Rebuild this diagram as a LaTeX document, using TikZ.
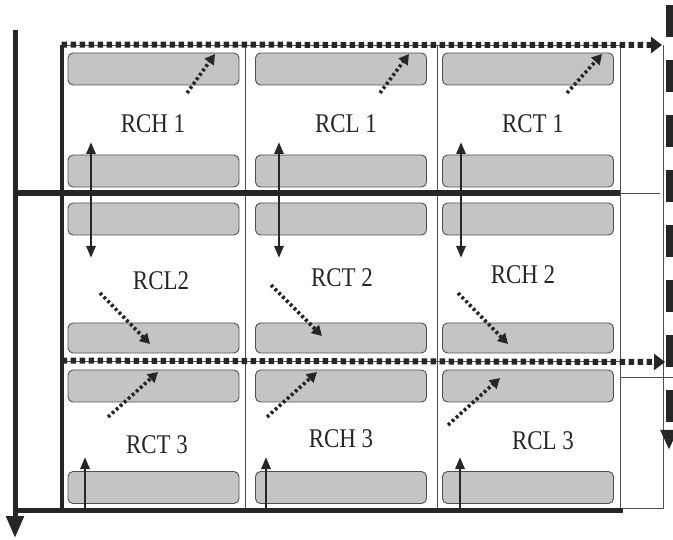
\documentclass[tikz,border=0pt]{standalone}
\usepackage{fontspec}
\setmainfont{Liberation Serif}
\newfontfamily\labelfont[FakeStretch=0.85]{Liberation Serif}
\usepackage{xcolor}
\definecolor{cInk}{HTML}{262626}
\definecolor{cBar}{HTML}{C4C4C4}
\definecolor{cEdge}{HTML}{505050}
\usepackage{tikz}
\usetikzlibrary{positioning,arrows.meta}
\tikzset{
  cell-box/.style={draw=cEdge,line width=0.8pt,inner sep=0pt},
  bar-box/.style={draw=cEdge,line width=0.9pt,fill=cBar,rounded corners=5pt,
    minimum width=171pt,minimum height=32pt,inner sep=0pt},
  cell-label/.style={text=cInk,font=\labelfont\fontsize{27}{30}\selectfont,inner sep=0pt},
  axis-thick/.style={draw=cInk,line width=5pt},
  axis-arrow/.style={axis-thick,-{Triangle[length=22pt,width=17pt]}},
  arrow-link/.style={draw=cInk,line width=2.8pt,{Triangle[length=12pt,width=9pt]}-{Triangle[length=12pt,width=9pt]}},
  arrow-up/.style={draw=cInk,line width=2.8pt,-{Triangle[length=12pt,width=9pt]}},
  arrow-dot/.style={draw=cInk,line width=3.6pt,dash pattern=on 2.8pt off 2.6pt,
    -{Triangle[length=10pt,width=11pt]}},
  flow-dot/.style={draw=cInk,line width=6pt,dash pattern=on 5.5pt off 3.5pt,
    -{Triangle[length=11pt,width=16pt]}},
  flow-dash/.style={draw=cInk,line width=7pt,dash pattern=on 32pt off 23pt,
    -{Triangle[length=20pt,width=16pt]}},
  frame-thin/.style={draw=cEdge,line width=0.8pt},
}
\begin{document}
\begin{tikzpicture}[x=1pt,y=-1pt]
  \useasboundingbox[fill=white] (0,0) rectangle (673,540);
  % cells
  \node[cell-box,minimum width=183pt,minimum height=148pt] (c11) at (153.5,119) {};
  \node[cell-box,minimum width=192pt,minimum height=148pt] (c12) at (341,119) {};
  \node[cell-box,minimum width=183pt,minimum height=148pt] (c13) at (528.5,119) {};
  \node[cell-box,minimum width=183pt,minimum height=168pt] (c21) at (153.5,277) {};
  \node[cell-box,minimum width=192pt,minimum height=168pt] (c22) at (341,277) {};
  \node[cell-box,minimum width=183pt,minimum height=168pt] (c23) at (528.5,277) {};
  \node[cell-box,minimum width=183pt,minimum height=149pt] (c31) at (153.5,435.5) {};
  \node[cell-box,minimum width=192pt,minimum height=149pt] (c32) at (341,435.5) {};
  \node[cell-box,minimum width=183pt,minimum height=149pt] (c33) at (528.5,435.5) {};
  % bars
  \node[bar-box] (b11t) at (153.5,69) {};
  \node[bar-box] (b12t) at (341,69) {};
  \node[bar-box] (b13t) at (528,69) {};
  \node[bar-box] (b11b) at (153.5,171) {};
  \node[bar-box] (b12b) at (341,171) {};
  \node[bar-box] (b13b) at (528,171) {};
  \node[bar-box] (b21t) at (153.5,219) {};
  \node[bar-box] (b22t) at (341,219) {};
  \node[bar-box] (b23t) at (528,219) {};
  \node[bar-box,minimum height=30pt] (b21b) at (153.5,338) {};
  \node[bar-box,minimum height=30pt] (b22b) at (341,338) {};
  \node[bar-box,minimum height=30pt] (b23b) at (528,338) {};
  \node[bar-box] (b31t) at (153.5,386) {};
  \node[bar-box] (b32t) at (341,386) {};
  \node[bar-box] (b33t) at (528,386) {};
  \node[bar-box] (b31b) at (153.5,487.5) {};
  \node[bar-box] (b32b) at (341,487.5) {};
  \node[bar-box] (b33b) at (528,487.5) {};
  % labels
  \node[cell-label] (rch1) at (153,124) {RCH 1};
  \node[cell-label] (rcl1) at (346,124) {RCL 1};
  \node[cell-label] (rct1) at (533,124) {RCT 1};
  \node[cell-label] (rcl2) at (161,281) {RCL2};
  \node[cell-label] (rct2) at (342,278) {RCT 2};
  \node[cell-label] (rch2) at (523,275) {RCH 2};
  \node[cell-label] (rct3) at (157,445) {RCT 3};
  \node[cell-label] (rch3) at (341,439) {RCH 3};
  \node[cell-label] (rcl3) at (543,441) {RCL 3};
  % frame on the right
  \coordinate (fr1) at (620,193);
  \coordinate (fr2) at (660,193);
  \coordinate (fr3) at (620,377);
  \coordinate (fr4) at (673,377);
  \coordinate (fr5) at (663,45);
  \coordinate (fr6) at (663,508);
  \coordinate (fr7) at (620,508);
  \draw[frame-thin] (fr1) -- (fr2);
  \draw[frame-thin] (fr3) -- (fr4);
  \draw[frame-thin] (fr5) -- (fr6) -- (fr7);
  % thick lines
  \coordinate (ax0) at (15,30);
  \coordinate (ax1) at (15,538);
  \coordinate (ax2) at (15,193);
  \coordinate (ax3) at (620,193);
  \coordinate (ax4) at (15,510);
  \coordinate (ax5) at (623,510);
  \draw[axis-arrow] (ax0) -- (ax1);
  \draw[axis-thick,line width=6pt] (ax2) -- (ax3);
  \draw[axis-thick] (ax4) -- (ax5);
  \draw[axis-thick,line width=4pt] (c11.north west) -- (c31.south west);
  % dotted flows
  \coordinate (fl1) at (662,45);
  \coordinate (fl2) at (665,362);
  \draw[flow-dot] (c11.north west) -- (fl1);
  \draw[flow-dot] (c31.north west) -- (fl2);
  \coordinate (dsh0) at (669,5);
  \coordinate (dsh1) at (669,450);
  \draw[flow-dash] (dsh0) -- (dsh1);
  % links between row 1 and row 2
  \coordinate (l1a) at (91,142);  \coordinate (l1b) at (91,258);
  \coordinate (l2a) at (279,142); \coordinate (l2b) at (279,258);
  \coordinate (l3a) at (461,142); \coordinate (l3b) at (461,258);
  \draw[arrow-link] (l1a) -- (l1b);
  \draw[arrow-link] (l2a) -- (l2b);
  \draw[arrow-link] (l3a) -- (l3b);
  % row 3 inputs
  \coordinate (u1a) at (85,510);  \coordinate (u1b) at (85,457);
  \coordinate (u2a) at (266,510); \coordinate (u2b) at (266,457);
  \coordinate (u3a) at (460,510); \coordinate (u3b) at (460,457);
  \draw[arrow-up] (u1a) -- (u1b);
  \draw[arrow-up] (u2a) -- (u2b);
  \draw[arrow-up] (u3a) -- (u3b);
  % dotted diagonals
  \coordinate (d11a) at (187,93);  \coordinate (d11b) at (215,54);
  \coordinate (d12a) at (380,93);  \coordinate (d12b) at (409,54);
  \coordinate (d13a) at (567,93);  \coordinate (d13b) at (602,54);
  \coordinate (d21a) at (100,293); \coordinate (d21b) at (150,344);
  \coordinate (d22a) at (271,285); \coordinate (d22b) at (322,336);
  \coordinate (d23a) at (458,293); \coordinate (d23b) at (508,344);
  \coordinate (d31a) at (108,417); \coordinate (d31b) at (158,372);
  \coordinate (d32a) at (267,417); \coordinate (d32b) at (317,372);
  \coordinate (d33a) at (448,425); \coordinate (d33b) at (500,378);
  \draw[arrow-dot] (d11a) -- (d11b);
  \draw[arrow-dot] (d12a) -- (d12b);
  \draw[arrow-dot] (d13a) -- (d13b);
  \draw[arrow-dot] (d21a) -- (d21b);
  \draw[arrow-dot] (d22a) -- (d22b);
  \draw[arrow-dot] (d23a) -- (d23b);
  \draw[arrow-dot] (d31a) -- (d31b);
  \draw[arrow-dot] (d32a) -- (d32b);
  \draw[arrow-dot] (d33a) -- (d33b);
\end{tikzpicture}
\end{document}
